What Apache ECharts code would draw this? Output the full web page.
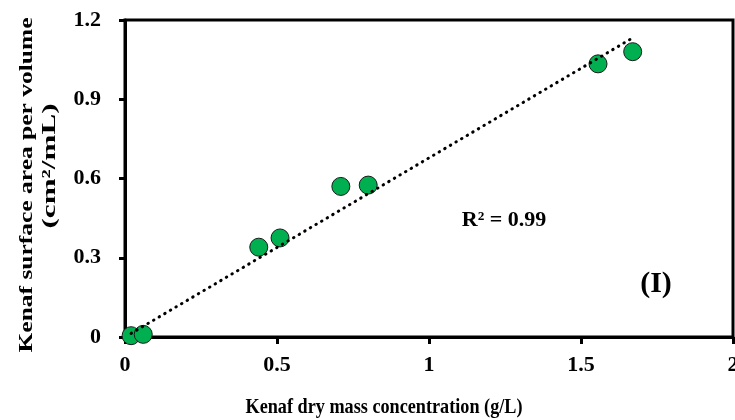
<!DOCTYPE html>
<html>
<head>
<meta charset="utf-8">
<script src="https://cdn.jsdelivr.net/npm/echarts@6/dist/echarts.min.js"></script>
<style>
html,body{margin:0;padding:0;background:#fff;}
#chart{width:735px;height:420px;}
</style>
</head>
<body>
<div id="chart"></div>
<script>
// Data
const massConc = [0.02, 0.06, 0.44, 0.51, 0.71, 0.80, 1.556, 1.67];     // g/L
const surfaceArea = [0.005, 0.01, 0.34, 0.375, 0.57, 0.575, 1.034, 1.08]; // cm2/mL
const xTicks = [0, 0.5, 1, 1.5, 2];
const yTicks = [0, 0.3, 0.6, 0.9, 1.2];
const xTitle = 'Kenaf dry mass concentration (g/L)';
const yTitle1 = 'Kenaf surface area per volume';
const yTitle2 = '(cm\u00B2/mL)';
const r2Text = 'R\u00B2 = 0.99';
const panelText = '(I)';

const FONT = "'Liberation Serif','Times New Roman',serif";

// linear trendline through origin (least squares)
let sxy = 0, sxx = 0;
for (let i = 0; i < massConc.length; i++) { sxy += massConc[i]*surfaceArea[i]; sxx += massConc[i]*massConc[i]; }
const slope = sxy / sxx;
const xMin = Math.min(...massConc), xMax = Math.max(...massConc);
const trend = [[xMin, slope*xMin], [xMax, slope*xMax]];

const pts = massConc.map((x, i) => [x, surfaceArea[i]]);

const cvs = document.createElement('canvas').getContext('2d');
function textW(txt, size) { cvs.font = 'bold ' + size + 'px ' + FONT; return cvs.measureText(txt).width; }

const y1Size = 19, y2Size = 19, xSize = 21;
const y1Scale = 335 / textW(yTitle1, y1Size);
const y2Scale = 125 / textW(yTitle2, y2Size);
const xScale = 277 / textW(xTitle, xSize);

const chart = echarts.init(document.getElementById('chart'), null, {renderer: 'canvas'});
chart.setOption({
  animation: false,
  backgroundColor: '#fff',
  grid: {left: 125, right: 2, top: 20, bottom: 83, containLabel: false, outerBoundsMode: 'none',
    show: true, borderColor: '#000', borderWidth: 3, backgroundColor: 'transparent'},
  xAxis: {
    type: 'value', min: xTicks[0], max: xTicks[xTicks.length-1], interval: 0.5,
    axisLine: {show: true, onZero: false, lineStyle: {color: '#000', width: 3}},
    axisTick: {show: true, inside: false, length: 7, lineStyle: {color: '#000', width: 3}},
    splitLine: {show: false},
    axisLabel: {color: '#000', fontFamily: FONT, fontWeight: 'bold', fontSize: 22, margin: 17,
      formatter: v => String(v)}
  },
  yAxis: {
    type: 'value', min: yTicks[0], max: yTicks[yTicks.length-1], interval: 0.3,
    axisLine: {show: true, onZero: false, lineStyle: {color: '#000', width: 3}},
    axisTick: {show: true, inside: false, length: 6, lineStyle: {color: '#000', width: 3}},
    splitLine: {show: false},
    axisLabel: {color: '#000', fontFamily: FONT, fontWeight: 'bold', fontSize: 22, margin: 24,
      formatter: v => String(Math.round(v*10)/10)}
  },
  series: [
    {
      type: 'scatter', data: pts, symbol: 'circle', symbolSize: 18, z: 2,
      itemStyle: {color: '#00B050', borderColor: '#1a1a1a', borderWidth: 1, opacity: 1}
    },
    {
      type: 'line', data: trend, symbol: 'none', z: 3, silent: true,
      lineStyle: {color: '#000', width: 3, type: [0.5, 6], cap: 'round'}
    }
  ],
  graphic: [
    {type: 'text', x: 27, y: 185, rotation: Math.PI/2, scaleX: y1Scale, scaleY: 1,
      style: {text: yTitle1, font: 'bold ' + y1Size + 'px ' + FONT, fill: '#000', align: 'center', verticalAlign: 'middle'}},
    {type: 'text', x: 50, y: 166, rotation: Math.PI/2, scaleX: y2Scale, scaleY: 1,
      style: {text: yTitle2, font: 'bold ' + y2Size + 'px ' + FONT, fill: '#000', align: 'center', verticalAlign: 'middle'}},
    {type: 'text', x: 384, y: 408, scaleX: xScale, scaleY: 1,
      style: {text: xTitle, font: 'bold ' + xSize + 'px ' + FONT, fill: '#000', align: 'center', verticalAlign: 'middle'}},
    {type: 'text', x: 504, y: 220,
      style: {text: r2Text, font: 'bold 22px ' + FONT, fill: '#000', align: 'center', verticalAlign: 'middle'}},
    {type: 'text', x: 656, y: 284,
      style: {text: panelText, font: 'bold 30px ' + FONT, fill: '#000', align: 'center', verticalAlign: 'middle'}}
  ]
});
</script>
</body>
</html>
